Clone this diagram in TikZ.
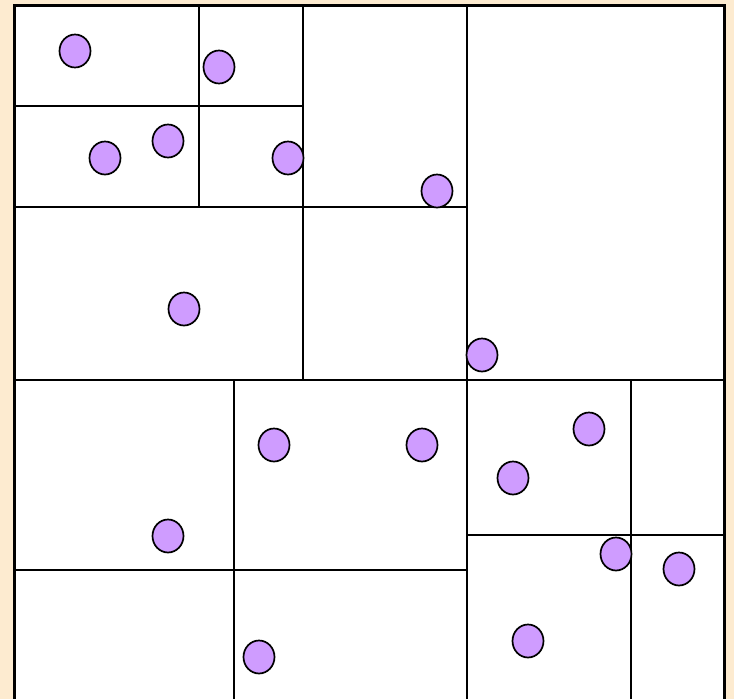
\documentclass[tikz,border=0pt]{standalone}
\usetikzlibrary{shapes.geometric}
\definecolor{bg}{HTML}{FDEBD0}
\definecolor{pt}{HTML}{CF9CFF}
\begin{document}
\begin{tikzpicture}[x=1pt,y=-1pt,
  cell/.style={draw=black,line width=2.3pt},
  outer/.style={draw=black,line width=3pt},
  dot/.style={ellipse,draw=black,line width=1.7pt,fill=pt,minimum width=31pt,minimum height=33pt,inner sep=0pt}]
\fill[bg] (0,0) rectangle (734,699);
\useasboundingbox (0,0) rectangle (734,699);
\begin{scope}
\clip (0,0) rectangle (734,699);
\fill[white] (14,5) rectangle (724,720);
% splits
\draw[cell] (467,5) -- (467,720);
\draw[cell] (14,380) -- (724,380);
\draw[cell] (303,5) -- (303,380);
\draw[cell] (14,207) -- (467,207);
\draw[cell] (199,5) -- (199,207);
\draw[cell] (14,106) -- (303,106);
\draw[cell] (234,380) -- (234,720);
\draw[cell] (14,570) -- (467,570);
\draw[cell] (631,380) -- (631,720);
\draw[cell] (467,535) -- (724,535);
\draw[outer] (14,5) rectangle (724,720);
\end{scope}
% points
\node[dot] (p1) at (75,51) {};
\node[dot] (p2) at (219,67) {};
\node[dot] (p3) at (105,158) {};
\node[dot] (p4) at (168,141) {};
\node[dot] (p5) at (288,158) {};
\node[dot] (p6) at (437,191) {};
\node[dot] (p7) at (184,309) {};
\node[dot] (p8) at (482,355) {};
\node[dot] (p9) at (274,445) {};
\node[dot] (p10) at (422,445) {};
\node[dot] (p11) at (168,536) {};
\node[dot] (p12) at (589,429) {};
\node[dot] (p13) at (513,478) {};
\node[dot] (p14) at (616,554) {};
\node[dot] (p15) at (679,569) {};
\node[dot] (p16) at (528,641) {};
\node[dot] (p17) at (259,657) {};
\end{tikzpicture}
\end{document}
